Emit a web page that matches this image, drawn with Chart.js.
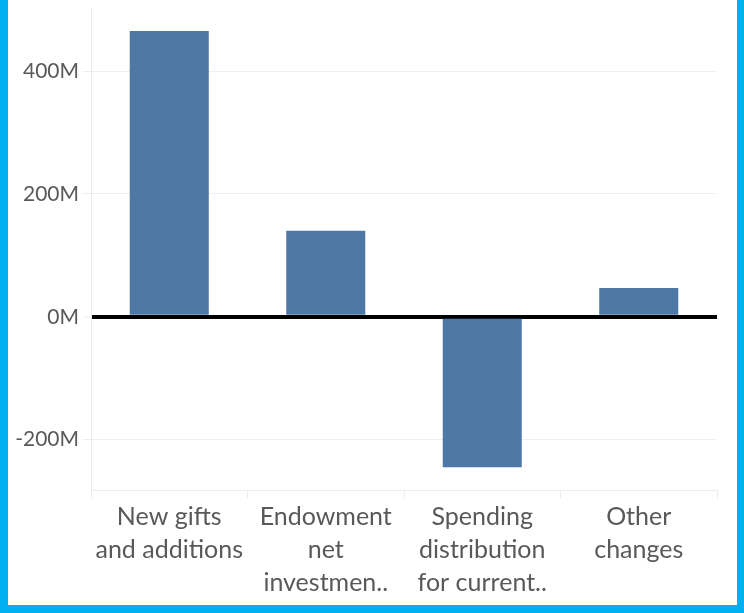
<!DOCTYPE html>
<html>
<head>
<meta charset="utf-8">
<script src="https://cdn.jsdelivr.net/npm/chart.js@4.4.1/dist/chart.umd.min.js"></script>
<style>
  html, body { margin: 0; padding: 0; background: #00b0f0; }
  #frame {
    position: absolute; left: 8px; top: 0; width: 729px; height: 605px;
    background: #fff;
  }
  #chart { display: block; }
</style>
</head>
<body>
<div id="frame"><canvas id="chart" width="729" height="605"></canvas></div>
<script>
const categories = [
  ["New gifts", "and additions"],
  ["Endowment", "net", "investmen.."],
  ["Spending", "distribution", "for current.."],
  ["Other", "changes"]
];
const changeValues = [465e6, 140e6, -245e6, 47e6];
const yTickValues = [-200e6, 0, 200e6, 400e6];

const barColor = "#4e79a7";
const textColor = "#595959";

new Chart(document.getElementById("chart"), {
  type: "bar",
  data: {
    labels: categories,
    datasets: [{
      data: changeValues,
      backgroundColor: barColor,
      barPercentage: 1,
      categoryPercentage: 0.505
    }]
  },
  options: {
    responsive: false,
    animation: false,
    layout: { padding: { top: 9, right: 20, left: 0, bottom: 0 } },
    plugins: {
      legend: { display: false },
      tooltip: { enabled: false }
    },
    scales: {
      x: {
        grid: {
          offset: true,
          drawOnChartArea: false,
          color: "#ececec",
          tickLength: 8
        },
        border: { color: "#ececec" },
        ticks: {
          color: textColor,
          font: { family: "Lato", size: 25, lineHeight: 1.33 },
          padding: 2,
          maxRotation: 0,
          autoSkip: false
        },
        afterFit: scale => {
          scale.height = 115;
          scale.paddingLeft = 0;
          scale.paddingRight = 0;
        }
      },
      y: {
        min: -282e6,
        max: 501e6,
        afterBuildTicks: scale => {
          scale.ticks = yTickValues.map(v => ({ value: v }));
        },
        grid: {
          color: ctx => ctx.tick && ctx.tick.value === 0 ? "#000" : "#f0f0f0",
          lineWidth: ctx => ctx.tick && ctx.tick.value === 0 ? 4 : 1,
          tickColor: "#ececec",
          tickWidth: 1,
          tickLength: 8
        },
        border: { color: "#ececec" },
        ticks: {
          color: textColor,
          font: { family: "Lato", size: 21 },
          padding: 4,
          callback: v => (v / 1e6) + "M"
        },
        afterFit: scale => {
          scale.width = 83;
          scale.paddingTop = 0;
          scale.paddingBottom = 0;
        }
      }
    }
  }
});
</script>
</body>
</html>
